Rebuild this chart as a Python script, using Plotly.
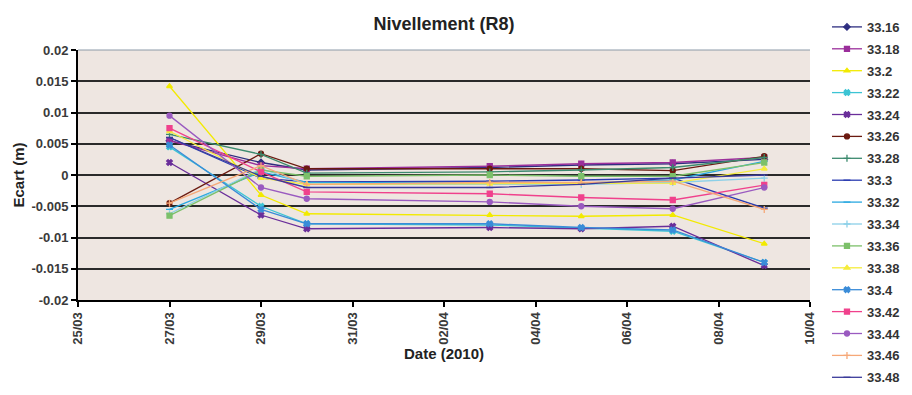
import plotly.graph_objects as go

# Survey dates (2010)
dates = ["2010-03-27", "2010-03-29", "2010-03-30", "2010-04-03",
         "2010-04-05", "2010-04-07", "2010-04-09"]

# Deviation (m) per levelling point
s_3316 = [0.0055, 0.0020, 0.0008, 0.0012, 0.0016, 0.0018, 0.0025]
s_3318 = [0.0055, 0.0015, 0.0010, 0.0014, 0.0018, 0.0020, 0.0028]
s_332 = [0.0142, -0.0032, -0.0062, -0.0064, -0.0066, -0.0064, -0.0110]
s_3322 = [0.0045, -0.0050, -0.0078, -0.0080, -0.0085, -0.0090, -0.0140]
s_3324 = [0.0020, -0.0064, -0.0086, -0.0084, -0.0086, -0.0082, -0.0145]
s_3326 = [-0.0045, 0.0034, 0.0010, 0.0010, 0.0010, 0.0007, 0.0030]
s_3328 = [0.0065, 0.0033, 0.0003, 0.0005, 0.0008, 0.0012, 0.0028]
s_333 = [0.0060, -0.0005, -0.0011, -0.0010, -0.0008, -0.0005, -0.0053]
s_3332 = [-0.0055, 0.0005, -0.0012, -0.0012, -0.0013, -0.0008, 0.0022]
s_3334 = [-0.0062, 0.0010, -0.0015, -0.0015, -0.0015, -0.0012, -0.0005]
s_3336 = [-0.0065, 0.0008, -0.0002, 0.0000, -0.0002, -0.0002, 0.0020]
s_3338 = [0.0070, -0.0005, -0.0015, -0.0014, -0.0013, -0.0013, 0.0010]
s_334 = [0.0048, -0.0055, -0.0078, -0.0078, -0.0084, -0.0088, -0.0140]
s_3342 = [0.0075, 0.0005, -0.0027, -0.0030, -0.0036, -0.0040, -0.0016]
s_3344 = [0.0095, -0.0020, -0.0038, -0.0043, -0.0050, -0.0054, -0.0020]
s_3346 = [-0.0045, 0.0015, -0.0015, -0.0012, -0.0012, -0.0010, -0.0055]
s_3348 = [0.0060, -0.0002, -0.0020, -0.0020, -0.0015, -0.0005, 0.0000]

names = ["33.16", "33.18", "33.2", "33.22", "33.24", "33.26", "33.28", "33.3",
         "33.32", "33.34", "33.36", "33.38", "33.4", "33.42", "33.44", "33.46", "33.48"]
series = [s_3316, s_3318, s_332, s_3322, s_3324, s_3326, s_3328, s_333,
          s_3332, s_3334, s_3336, s_3338, s_334, s_3342, s_3344, s_3346, s_3348]

colors = ["#2E2E80", "#9B2F9B", "#F2EA00", "#3CC4D4", "#6A2E9A", "#6B1A10",
          "#3C8A6E", "#2A3CB0", "#2AA8E0", "#8CD0E8", "#7CC06A", "#F5EC3C",
          "#3A8CD8", "#F0418C", "#9A5AC0", "#F6A878", "#3A3A9A"]
symbols = ["diamond", "square", "triangle-up", "x", "x", "circle", "cross-thin",
           "line-ew", "line-ew", "cross-thin", "square", "triangle-up", "x",
           "square", "circle", "cross-thin", "line-ew"]

y_ticks = [0.02, 0.015, 0.01, 0.005, 0, -0.005, -0.01, -0.015, -0.02]
y_text = ["0.02", "0.015", "0.01", "0.005", "0", "-0.005", "-0.01", "-0.015", "-0.02"]

fig = go.Figure()
for name, vals, c, sym in zip(names, series, colors, symbols):
    fig.add_trace(go.Scatter(
        x=dates, y=vals, mode="lines+markers", name=name, legendgroup=name,
        line=dict(color=c, width=1.3),
        marker=dict(symbol=sym, size=5, color=c, line=dict(color=c, width=1.3))
    ))

# thin top border of the plot area
fig.add_shape(type="line", xref="paper", yref="paper", x0=0, x1=1, y0=1, y1=1,
              line=dict(color="#8C9AA8", width=1))

# page body adds an 8px offset, so margins are shifted to compensate
fig.update_layout(
    width=912, height=395,
    margin=dict(l=70, r=110, t=42, b=103, autoexpand=False),
    paper_bgcolor="white",
    plot_bgcolor="#EEE6E1",
    font=dict(family="Liberation Sans, Arial, sans-serif", size=12, color="#333333"),
    title=dict(text="<b>Nivellement (R8)</b>", x=0.5, xref="paper", xanchor="center",
               y=0.96, yanchor="middle", font=dict(size=18, color="#222222")),
    showlegend=True,
    legend=dict(xref="container", x=0.898, xanchor="left",
                yref="container", y=0.99, yanchor="top",
                maxheight=1.0, font=dict(size=13, color="#333333", weight="bold"),
                tracegroupgap=2, itemwidth=30, bgcolor="rgba(0,0,0,0)"),
)

fig.update_xaxes(
    type="date", range=["2010-03-25", "2010-04-10"],
    dtick=2 * 86400000, tick0="2010-03-25", tickformat="%d/%m", tickangle=-90,
    showgrid=False, showline=True, linecolor="black", linewidth=2,
    ticks="outside", ticklen=5, tickcolor="black", tickwidth=2,
    tickfont=dict(size=13, color="#3A3A3A", weight="bold"),
    title=dict(text="<b>Date (2010)</b>", font=dict(size=15, color="#222222"), standoff=4),
)
fig.update_yaxes(
    range=[-0.02, 0.02], tickvals=y_ticks, ticktext=y_text,
    showgrid=True, gridcolor="#2A2A2A", gridwidth=2, zeroline=False,
    showline=True, linecolor="black", linewidth=2,
    ticks="outside", ticklen=5, tickcolor="black", tickwidth=2,
    tickfont=dict(size=13, color="#3A3A3A", weight="bold"),
    title=dict(text="<b>Ecart (m)</b>", font=dict(size=15, color="#222222"), standoff=3),
)

fig.write_html("out.html")
